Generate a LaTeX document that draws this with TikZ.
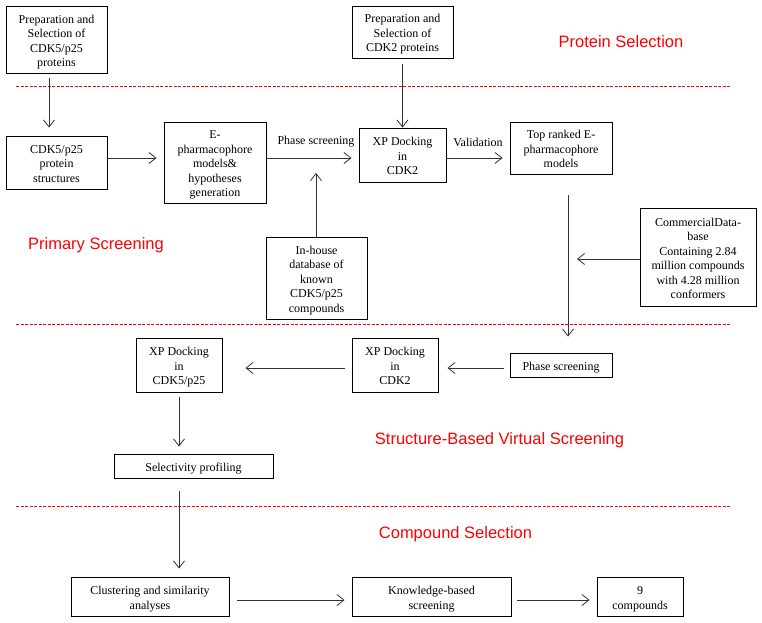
\documentclass[tikz,border=0pt]{standalone}
\usepackage{fontspec}
\setmainfont{Liberation Serif}
\newfontfamily\headfont{Liberation Sans}
\usetikzlibrary{arrows.meta}
\newcommand{\btext}[1]{\raisebox{-2.5pt}[\height][\depth]{\begin{tabular}{@{}c@{}}#1\end{tabular}}}
\begin{document}
\begin{tikzpicture}[x=1pt,y=-1pt,
  box/.style={draw=black, line width=0.9pt, inner sep=0pt,
    font=\fontsize{12}{14.5}\selectfont},
  arr/.style={draw=black!80, line width=0.8pt, -{Straight Barb[length=7pt,width=11pt,line width=0.8pt]}},
  lbl/.style={font=\fontsize{12}{14.5}\selectfont, inner sep=0pt},
  head/.style={text=red, font=\headfont\fontsize{16.5}{18}\selectfont, inner sep=0pt},
  sep/.style={draw=red, line width=0.6pt, dash pattern=on 3pt off 1.5pt}]
\useasboundingbox (0,0) rectangle (762,622);

% separators
\draw[sep] (16,86) -- (731,86);
\draw[sep] (16,324) -- (731,324);
\draw[sep] (16,506) -- (731,506);

% headings
\node[head] (h1) at (621,42) {Protein Selection};
\node[head] (h2) at (96,245) {Primary Screening};
\node[head] (h3) at (499.5,440) {Structure-Based Virtual Screening};
\node[head] (h4) at (455.5,534) {Compound Selection};

% boxes
\node[box, minimum width=101, minimum height=67] (A) at (56.5,39.5) {\btext{Preparation and\\Selection of\\CDK5/p25\\proteins}};
\node[box, minimum width=101, minimum height=52] (P2) at (402.5,32) {\btext{Preparation and\\Selection of\\CDK2 proteins}};
\node[box, minimum width=101, minimum height=53] (B) at (56.5,162.5) {\btext{CDK5/p25\\protein\\structures}};
\node[box, minimum width=102, minimum height=81] (C) at (215,162.5) {\btext{E-\\pharmacophore\\models\&\\hypotheses\\generation}};
\node[box, minimum width=87, minimum height=54] (D) at (402.5,155) {\btext{XP Docking\\in\\CDK2}};
\node[box, minimum width=102, minimum height=52] (E) at (561,148) {\btext{Top ranked E-\\pharmacophore\\models}};
\node[box, minimum width=101, minimum height=82] (H) at (316.5,278) {\btext{In-house\\database of\\known\\CDK5/p25\\compounds}};
\node[box, minimum width=116, minimum height=98] (M) at (698,257) {\btext{CommercialData-\\base\\Containing 2.84\\million compounds\\with 4.28 million\\conformers}};
\node[box, minimum width=102, minimum height=24] (F) at (561,365) {\btext{Phase screening}};
\node[box, minimum width=86, minimum height=54] (G) at (395,365) {\btext{XP Docking\\in\\CDK2}};
\node[box, minimum width=86, minimum height=54] (K) at (179,365) {\btext{XP Docking\\in\\CDK5/p25}};
\node[box, minimum width=159, minimum height=24] (S) at (193.5,466) {\btext{Selectivity profiling}};
\node[box, minimum width=158, minimum height=39] (L) at (150,596.5) {\btext{Clustering and similarity\\analyses}};
\node[box, minimum width=159, minimum height=39] (N) at (431.5,596.5) {\btext{Knowledge-based\\screening}};
\node[box, minimum width=86, minimum height=39] (Q) at (640,596.5) {\btext{9\\compounds}};

% edge labels
\node[lbl] (l1) at (316,142) {Phase screening};
\node[lbl] (l2) at (478,142) {Validation};

% helper coordinates
\coordinate (xa) at (49,0);
\coordinate (xv) at (568,0);
\coordinate (ya) at (0,158);
\coordinate (yb) at (0,368);
\coordinate (yc) at (0,600);
\coordinate (tipH) at (316,173);
\coordinate (tipM) at (577,259);
\coordinate (mstart) at (640,259);

% connectors
\draw[arr, shorten <=5pt, shorten >=8pt] (A.south -| xa) -- (B.north -| xa);
\draw[arr, shorten >=7pt] (B.east |- ya) -- (C.west |- ya);
\draw[arr, shorten >=7pt] (C.east |- ya) -- (D.west |- ya);
\draw[arr] (H.north -| tipH) -- (tipH);
\draw[arr, shorten <=6pt] (P2.south) -- (D.north);
\draw[arr, shorten >=7pt] (D.east |- ya) -- (E.west |- ya);
\draw[arr, shorten <=21pt, shorten >=16pt] (E.south -| xv) -- (F.north -| xv);
\draw[arr] (mstart) -- (tipM);
\draw[arr, shorten <=6pt, shorten >=9pt] (F.west |- yb) -- (G.east |- yb);
\draw[arr, shorten <=7pt, shorten >=23pt] (G.west |- yb) -- (K.east |- yb);
\draw[arr, shorten <=5pt, shorten >=7pt] (K.south) -- (S.north -| K.south);
\draw[arr, shorten <=13pt, shorten >=8pt] (S.south -| K.south) -- (L.north -| K.south);
\draw[arr, shorten <=8pt, shorten >=7pt] (L.east |- yc) -- (N.west |- yc);
\draw[arr, shorten <=6pt, shorten >=7pt] (N.east |- yc) -- (Q.west |- yc);
\end{tikzpicture}
\end{document}
